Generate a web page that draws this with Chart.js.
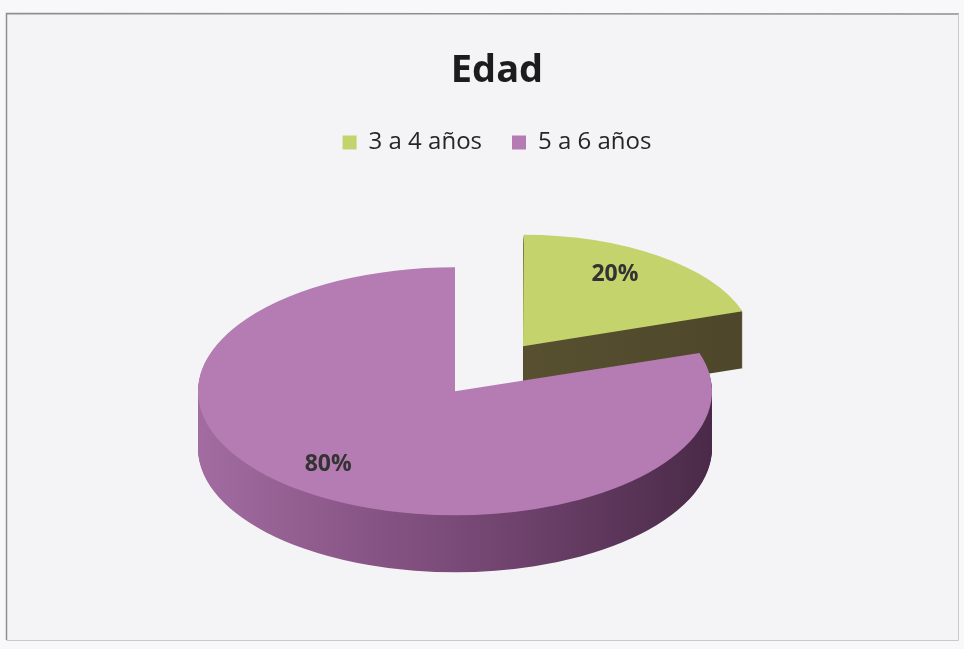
<!DOCTYPE html>
<html>
<head>
<meta charset="utf-8">
<script src="https://cdn.jsdelivr.net/npm/chart.js"></script>
<style>
  html, body { margin: 0; padding: 0; background: #f8f8fa; }
  #wrap { width: 964px; height: 649px; }
</style>
</head>
<body>
<div id="wrap"><canvas id="grafico" width="964" height="649"></canvas></div>
<script>
// Dados
const categorias = ['3 a 4 años', '5 a 6 años'];
const porcentajes = [20, 80];

// Cores: face de cima e lateral (gradiente esquerda -> direita)
const coresTopo = ['#c4d36c', '#b47cb2'];
const coresLado = [['#625a36', '#4d462a'], ['#a26ca0', '#7a4a78', '#4a2a48']];

// Desenha a pizza em "3D": achata o círculo, empilha cópias escuras para a lateral
const pizza3d = {
    id: 'pizza3d',
    beforeDraw(chart) {
        const ctx = chart.ctx;
        ctx.save();
        ctx.fillStyle = '#f4f4f7';
        ctx.fillRect(6, 13, 953, 627);
        ctx.strokeStyle = '#8f8f8f';
        ctx.lineWidth = 1.5;
        ctx.beginPath();
        ctx.moveTo(959, 14);
        ctx.lineTo(6.5, 13.5);
        ctx.lineTo(6.5, 640);
        ctx.stroke();
        ctx.strokeStyle = '#c9c9c9';
        ctx.lineWidth = 1;
        ctx.beginPath();
        ctx.moveTo(6.5, 640.5);
        ctx.lineTo(958.5, 640.5);
        ctx.lineTo(958.5, 14);
        ctx.stroke();
        ctx.restore();
    },
    beforeDatasetsDraw(chart, args, opts) {
        const ctx = chart.ctx;
        const arcs = chart.getDatasetMeta(0).data;
        const k = opts.inclinacao;
        const cx = arcs[0].x, cy = arcs[0].y;

        ctx.save();
        ctx.translate(opts.deslocX, 0);
        ctx.translate(cx, cy);
        ctx.scale(1, k);
        ctx.translate(-cx, -cy);

        arcs.forEach((arc, i) => {
            const ap = pontaFatia(arc);
            const s = opts.escala[i];
            const r = arc.outerRadius;

            ctx.save();
            ctx.translate(ap.x, ap.y);
            ctx.scale(s, s);
            ctx.translate(-ap.x, -ap.y);

            // lateral
            const grad = ctx.createLinearGradient(cx - r, 0, cx + r, 0);
            const cs = coresLado[i];
            cs.forEach((c, j) => grad.addColorStop(j / (cs.length - 1), c));
            const lado = Object.create(arc);
            lado.options = Object.assign({}, arc.options, {backgroundColor: grad, borderWidth: 0});
            for (let d = opts.profundidade; d >= 1; d--) {
                ctx.save();
                ctx.translate(0, d / (k * s));
                Chart.ArcElement.prototype.draw.call(lado, ctx);
                ctx.restore();
            }

            // topo
            const topo = Object.create(arc);
            topo.options = Object.assign({}, arc.options, {backgroundColor: coresTopo[i], borderWidth: 0});
            Chart.ArcElement.prototype.draw.call(topo, ctx);
            ctx.restore();
        });

        ctx.restore();
        return false;
    },
    afterDraw(chart, args, opts) {
        const ctx = chart.ctx;
        const arcs = chart.getDatasetMeta(0).data;
        const k = opts.inclinacao;
        const cy = arcs[0].y;
        ctx.save();
        ctx.font = 'bold 23px "Open Sans"';
        ctx.fillStyle = '#333333';
        ctx.textAlign = 'center';
        ctx.textBaseline = 'middle';
        arcs.forEach((arc, i) => {
            const ap = pontaFatia(arc);
            const mid = (arc.startAngle + arc.endAngle) / 2;
            const dist = arc.outerRadius * opts.escala[i] * opts.posRotulo;
            const px = ap.x + Math.cos(mid) * dist;
            const py = ap.y + Math.sin(mid) * dist;
            const txt = porcentajes[i] + '%';
            ctx.fillText(txt, px + opts.deslocX - 12, cy + (py - cy) * k - 3);
        });
        ctx.restore();
    }
};

// Posição do vértice da fatia, com o mesmo deslocamento que o ArcElement usa
function pontaFatia(arc) {
    const mid = (arc.startAngle + arc.endAngle) / 2;
    const off = (arc.options.offset || 0) / 4;
    const circ = arc.endAngle - arc.startAngle;
    const fix = 1 - Math.sin(Math.min(Math.PI, circ || 0));
    const d = off * (1 + fix);
    return {x: arc.x + Math.cos(mid) * d, y: arc.y + Math.sin(mid) * d};
}

const ctx = document.getElementById('grafico').getContext('2d');
new Chart(ctx, {
    type: 'pie',
    data: {
        labels: categorias,
        datasets: [{
            data: porcentajes,
            backgroundColor: coresTopo,
            borderWidth: 0,
            offset: [460, 0]
        }]
    },
    options: {
        responsive: false,
        animation: false,
        radius: 257,
        cutout: '0%',
        layout: { padding: { top: 0, bottom: 31, left: 30, right: 0 } },
        plugins: {
            title: {
                display: true,
                text: 'Edad',
                color: '#1c1c1c',
                font: { family: '"Open Sans"', size: 38, weight: 'bold' },
                padding: { top: 48, bottom: 7 }
            },
            legend: {
                position: 'top',
                labels: {
                    color: '#262626',
                    font: { family: '"Open Sans"', size: 24 },
                    boxWidth: 14,
                    boxHeight: 14,
                    padding: 30
                }
            },
            tooltip: { enabled: false },
            pizza3d: {
                inclinacao: 0.4825,
                profundidade: 57,
                deslocX: -42,
                escala: [0.88, 1],
                posRotulo: 0.76
            }
        }
    },
    plugins: [pizza3d]
});
</script>
</body>
</html>
